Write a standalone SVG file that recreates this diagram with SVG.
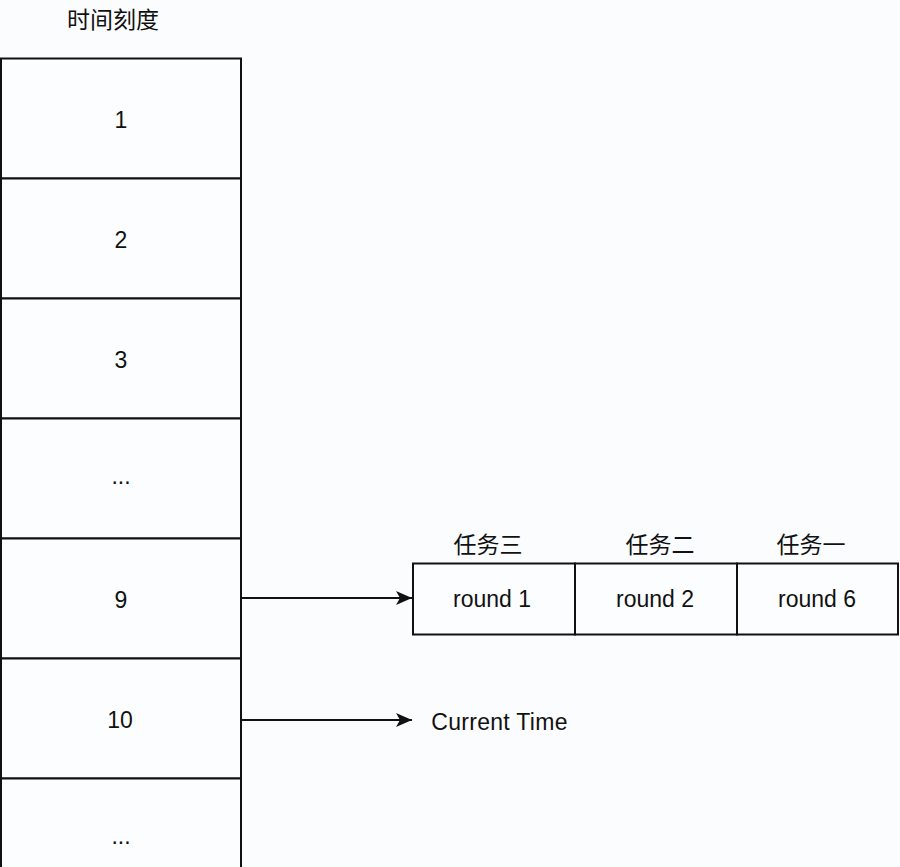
<svg xmlns="http://www.w3.org/2000/svg" width="900" height="867" viewBox="0 0 900 867">
<style>
.cell{fill:#fcfdfe;stroke:#111;stroke-width:2}
.t{font-family:"Liberation Sans","Noto Sans CJK SC",sans-serif;font-size:23px;fill:#111;text-anchor:middle}
.c{font-family:"Noto Sans CJK SC",sans-serif;font-size:23px;fill:#111;text-anchor:middle}
.ln{stroke:#111;stroke-width:2;fill:none}
</style>
<defs>
<marker id="arr" viewBox="0 0 16 14" refX="16" refY="7" markerWidth="16" markerHeight="14" markerUnits="userSpaceOnUse" orient="auto">
<path d="M0,0 L16,7 L0,14 L4,7 z" fill="#111"/>
</marker>
</defs>
<rect width="900" height="867" fill="#fafcfd"/>
<text class="c" x="113" y="28">时间刻度</text>
<g id="cell1"><rect class="cell" x="1" y="58.5" width="240" height="120"/><text class="t" x="121" y="128">1</text></g>
<g id="cell2"><rect class="cell" x="1" y="178.5" width="240" height="120"/><text class="t" x="121" y="248">2</text></g>
<g id="cell3"><rect class="cell" x="1" y="298.5" width="240" height="120"/><text class="t" x="121" y="368">3</text></g>
<g id="cell4"><rect class="cell" x="1" y="418.5" width="240" height="120"/><text class="t" x="121" y="484">...</text></g>
<g id="cell9"><rect class="cell" x="1" y="538.5" width="240" height="120"/><text class="t" x="121" y="608">9</text></g>
<g id="cell10"><rect class="cell" x="1" y="658.5" width="240" height="120"/><text class="t" x="120" y="728">10</text></g>
<g id="cell11"><rect class="cell" x="1" y="778.5" width="240" height="120"/><text class="t" x="121" y="844">...</text></g>
<g id="task3"><text class="c" x="488" y="553">任务三</text><rect class="cell" x="413" y="563.5" width="162" height="71"/><text class="t" x="492" y="607">round 1</text></g>
<g id="task2"><text class="c" x="660" y="553">任务二</text><rect class="cell" x="575" y="563.5" width="162" height="71"/><text class="t" x="655" y="607">round 2</text></g>
<g id="task1"><text class="c" x="811" y="553">任务一</text><rect class="cell" x="737" y="563.5" width="161" height="71"/><text class="t" x="817" y="607">round 6</text></g>
<text class="t" x="499.5" y="730" style="letter-spacing:0.3px">Current Time</text>
<g id="connectors">
<line class="ln" x1="242" y1="598" x2="412" y2="598" marker-end="url(#arr)"/>
<line class="ln" x1="242" y1="720" x2="412" y2="720" marker-end="url(#arr)"/>
</g>
</svg>
